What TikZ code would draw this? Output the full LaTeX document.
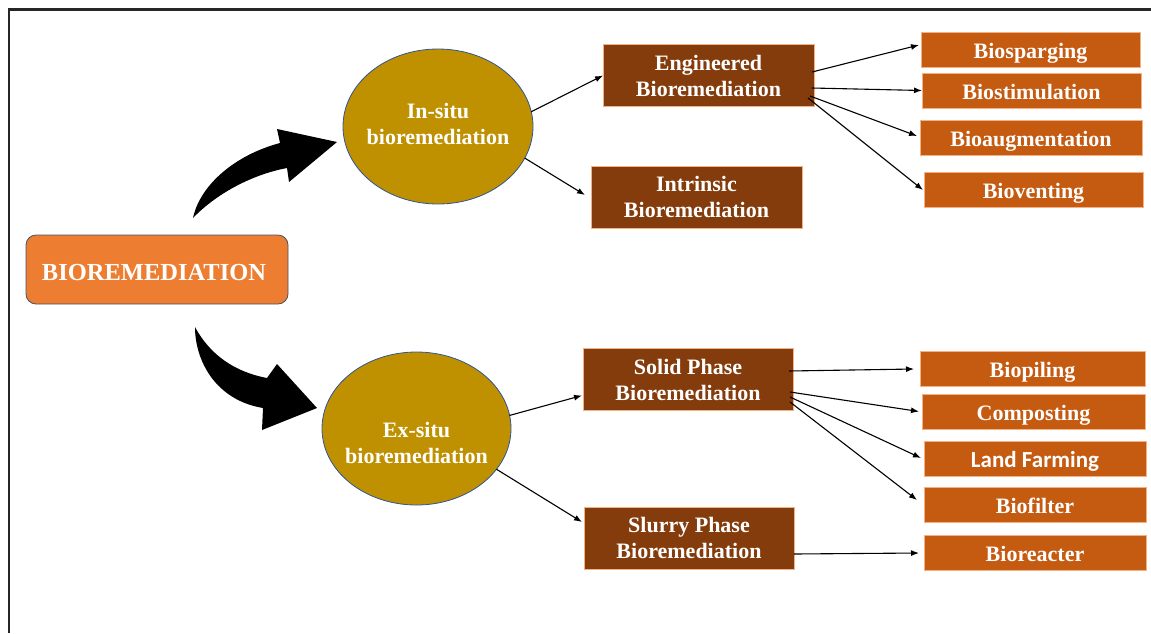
\documentclass[tikz,border=0pt]{standalone}
\usepackage{fontspec}
\setmainfont{Liberation Serif}
\newfontfamily\carlito{Carlito}
\usetikzlibrary{arrows.meta,shapes.geometric}
\definecolor{darkbrown}{HTML}{843C0C}
\definecolor{lightbrown}{HTML}{C55A11}
\definecolor{goldfill}{HTML}{BF9000}
\definecolor{orangefill}{HTML}{ED7D31}
\definecolor{boxedge}{HTML}{F4B183}
\definecolor{ellipseedge}{HTML}{2F5597}
\definecolor{rootedge}{HTML}{44546A}
\begin{document}
\begin{tikzpicture}[x=1pt,y=-1pt,
  boxtext/.style={text=white, font=\bfseries\fontsize{22}{26}\selectfont, align=center, inner sep=0pt, outer sep=0pt},
  darkbox/.style={boxtext, rectangle, fill=darkbrown, draw=boxedge, line width=0.6pt, minimum width=211pt, minimum height=62pt},
  lightbox/.style={boxtext, rectangle, fill=lightbrown, draw=boxedge, line width=0.6pt, minimum width=222pt, minimum height=35pt, text height=20pt, text depth=3pt},
  oval/.style={ellipse, fill=goldfill, draw=ellipseedge, line width=0.8pt, inner sep=0pt, outer sep=0pt},
  conn/.style={-{Latex[length=8pt,width=6pt]}, line width=1.1pt, black},
  bigarrow/.style={fill=black, draw=none}
]
\useasboundingbox (0,0) rectangle (1151,633);
% frame
\draw[line width=2.5pt, black!85] (9,633) -- (9,9.5) -- (1151,9.5);

% root
\node[rectangle, rounded corners=10pt, fill=orangefill, draw=rootedge, line width=0.8pt,
      minimum width=262pt, minimum height=69pt, inner sep=0pt, text height=21pt, text depth=0pt,
      text=white, font=\bfseries\fontsize{24.5}{28}\selectfont] (bio) at (157,269.5) {BIOREMEDIATION\hspace*{6pt}};

% ellipses
\node[oval, minimum width=190pt, minimum height=155pt,
      label={[boxtext, yshift=3pt]center:{In-situ\\bioremediation}}] (insitu) at (438,126.5) {};
\node[oval, minimum width=189pt, minimum height=153pt,
      label={[boxtext, yshift=-14pt]center:{Ex-situ\\bioremediation}}] (exsitu) at (416.5,428.5) {};

% second level
\node[darkbox] (eng) at (708.5,75.5) {Engineered\\Bioremediation};
\node[darkbox] (intr) at (696.5,197) {Intrinsic\\Bioremediation};
\node[darkbox, minimum width=210pt] (solid) at (688,379.5) {Solid Phase\\Bioremediation};
\node[darkbox, minimum width=210pt] (slurry) at (689,538) {Slurry Phase\\Bioremediation};

% third level
\node[lightbox, minimum width=219pt] (bsp) at (1030.5,49.5) {Biosparging};
\node[lightbox, minimum width=219pt] (bst) at (1031.5,90.5) {Biostimulation};
\node[lightbox] (baug) at (1031,138) {Bioaugmentation};
\node[lightbox, minimum width=219pt] (bvent) at (1033.5,190) {Bioventing};
\node[lightbox, minimum width=225pt] (bpil) at (1032.5,369) {Biopiling};
\node[lightbox, minimum width=223pt] (comp) at (1033.5,411.5) {Composting};
\node[lightbox, font=\carlito\bfseries\fontsize{23}{26}\selectfont] (land) at (1035,459) {Land Farming};
\node[lightbox] (bfilt) at (1035,505) {Biofilter};
\node[lightbox] (breact) at (1035,553) {Bioreacter};

% big curved arrows
\fill[bigarrow] (193,218) .. controls (200,185) and (235,155) .. (280,143)
  -- (277,129) -- (337,142) -- (289,182) -- (287,168)
  .. controls (250,175) and (215,195) .. (193,218) -- cycle;
\fill[bigarrow] (195,327) .. controls (210,355) and (235,372) .. (267,378)
  -- (277,364) -- (317,408) -- (262,430) -- (263,408)
  .. controls (215,400) and (195,360) .. (195,327) -- cycle;

% connectors
\draw[conn] (insitu.9) -- (eng.west);
\draw[conn] (insitu.-20) -- ([xshift=-6pt,yshift=2pt]intr.west);
\draw[conn] ([xshift=-2pt,yshift=3.5pt]eng.east) -- ([xshift=-2pt,yshift=4.5pt]bsp.west);
\draw[conn] ([xshift=-2pt,yshift=-12.5pt]eng.east) -- (bst.west);
\draw[conn] ([xshift=-4pt,yshift=-20.5pt]eng.east) -- ([xshift=-3pt,yshift=2pt]baug.west);
\draw[conn] ([xshift=-6pt,yshift=-22.5pt]eng.east) -- ([xshift=-1pt]bvent.west);
\draw[conn] (exsitu.8) -- ([xshift=-1pt,yshift=-16pt]solid.west);
\draw[conn] (exsitu.-27) -- ([xshift=-2pt,yshift=16pt]slurry.west);
\draw[conn] ([xshift=-4pt,yshift=8.5pt]solid.east) -- ([xshift=-6pt]bpil.west);
\draw[conn] ([xshift=-3pt,yshift=-12.5pt]solid.east) -- ([xshift=-3pt]comp.west);
\draw[conn] ([xshift=-3pt,yshift=-17.5pt]solid.east) -- ([xshift=-3pt,yshift=1pt]land.west);
\draw[conn] ([xshift=-3pt,yshift=-22.5pt]solid.east) -- ([xshift=-7pt,yshift=5pt]bfilt.west);
\draw[conn] ([yshift=-16pt]slurry.east) -- ([xshift=-5pt]breact.west);
\end{tikzpicture}
\end{document}
